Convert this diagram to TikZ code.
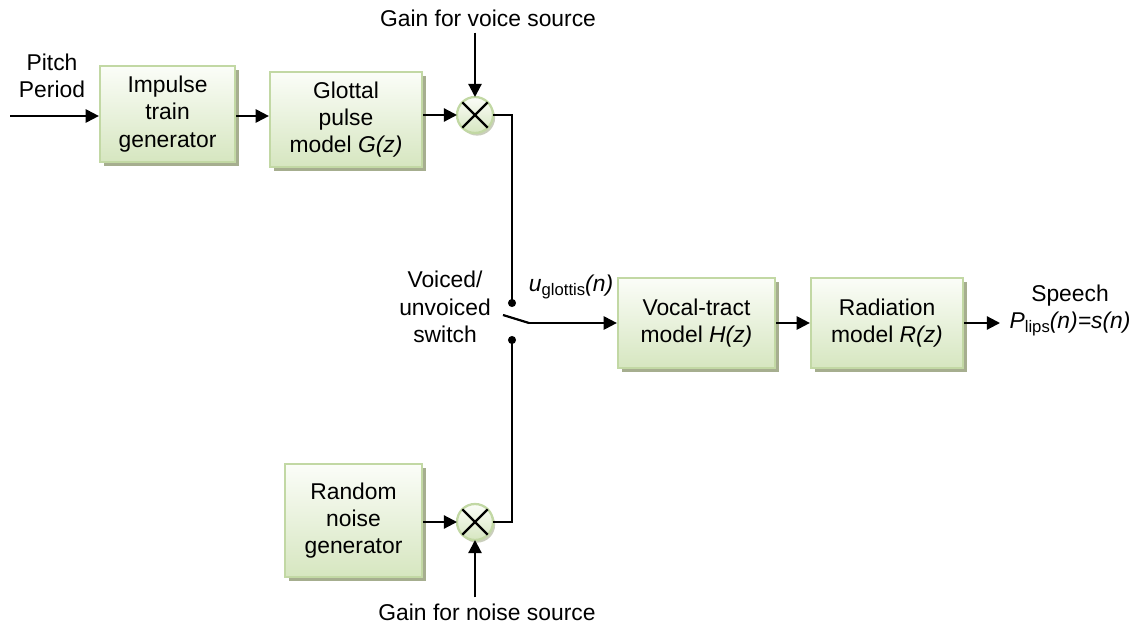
\documentclass[tikz,border=0pt]{standalone}
\usepackage{fontspec}
\setmainfont{Liberation Sans}
\usetikzlibrary{arrows.meta,shadows}
\definecolor{boxedge}{HTML}{C2D8A4}
\definecolor{boxtop}{HTML}{FBFDF8}
\definecolor{boxbot}{HTML}{D6E6C0}
\definecolor{boxshadow}{HTML}{A6AE8F}
\newcommand{\subtxt}[1]{\raisebox{-0.3ex}{\fontsize{9.5}{9.5}\selectfont #1}}
\tikzset{
  blk/.style={draw=boxedge, line width=1.3pt, top color=boxtop, bottom color=boxbot,
    align=center, font=\fontsize{13}{15.6}\selectfont,
    drop shadow={shadow xshift=2.2pt, shadow yshift=-2.5pt, fill=boxshadow, opacity=1}},
  mult/.style={circle, draw=boxedge, line width=1.3pt, top color=boxtop, bottom color=boxbot,
    minimum size=0.72cm, inner sep=0pt, outer sep=0pt,
    drop shadow={shadow xshift=1.2pt, shadow yshift=-1.5pt, fill=boxshadow, opacity=0.6}},
  lbl/.style={align=center, font=\fontsize{13}{15.6}\selectfont},
  sig/.style={line width=1.25pt, -{Triangle[length=7.5pt,width=7.5pt]}},
  wire/.style={line width=1.25pt}
}
\begin{document}
\begin{tikzpicture}[x=0.02cm, y=-0.02cm]
\useasboundingbox (0,0) rectangle (1141,628);
% blocks
\node[blk, minimum width=2.70cm, minimum height=1.92cm] (impulse) at (167.5,114){Impulse\\train\\generator};
\node[blk, minimum width=3.04cm, minimum height=1.90cm] (glottal) at (346,119.5){Glottal\\pulse\\model \textit{G(z)}};
\node[blk, minimum width=2.74cm, minimum height=2.26cm] (noise) at (353.5,520.5){Random\\noise\\generator};
\node[blk, minimum width=3.14cm, minimum height=1.80cm] (vocal) at (696.5,323){Vocal-tract\\model \textit{H(z)}};
\node[blk, minimum width=3.04cm, minimum height=1.80cm] (radiation) at (887,323){Radiation\\model \textit{R(z)}};
% multipliers
\node[mult] (multv) at (475,115){};
\node[mult] (multn) at (475,522){};
\draw[line width=1.25pt] (multv.45) -- (multv.225) (multv.135) -- (multv.315);
\draw[line width=1.25pt] (multn.45) -- (multn.225) (multn.135) -- (multn.315);
% labels
\node[lbl] (pitch) at (52,76){Pitch\\Period};
\node[lbl] (gainv) at (488,18){Gain for voice source};
\node[lbl] (gainn) at (487,612){Gain for noise source};
\node[lbl] (swlbl) at (445,307){Voiced/\\unvoiced\\switch};
\node[lbl] (uglot) at (571,287){\textit{u}\subtxt{glottis}\textit{(n)}};
\node[lbl] (speech) at (1070,310.5){Speech\\\textit{P}\subtxt{lips}\textit{(n)=s(n)}};
% switch
\coordinate (pin) at (10,116);
\coordinate (swtop) at (512,303);
\coordinate (swbot) at (512,340);
\coordinate (swpiv) at (503,315);
\coordinate (swknee) at (529,323);
\coordinate (sout) at (1000,323);
\fill (swtop) circle (2.3pt);
\fill (swbot) circle (2.3pt);
% connectors
\draw[sig](pin) -- (pin -| impulse.west);
\draw[sig](impulse.east |- pin) -- (pin -| glottal.west);
\draw[sig](glottal.east |- multv) -- (multv);
\draw[sig](gainv.south -| multv) -- (multv);
\draw[wire](multv.east) -- (swtop |- multv.east) -- (swtop);
\draw[sig](noise.east |- multn) -- (multn);
\draw[sig](gainn.north -| multn) -- (multn);
\draw[wire](multn.east) -- (swbot |- multn.east) -- (swbot);
\draw[wire](swpiv) -- (swknee);
\draw[sig](swknee) -- (vocal.west);
\draw[sig](vocal) -- (radiation);
\draw[sig](radiation) -- (sout);
\end{tikzpicture}
\end{document}
